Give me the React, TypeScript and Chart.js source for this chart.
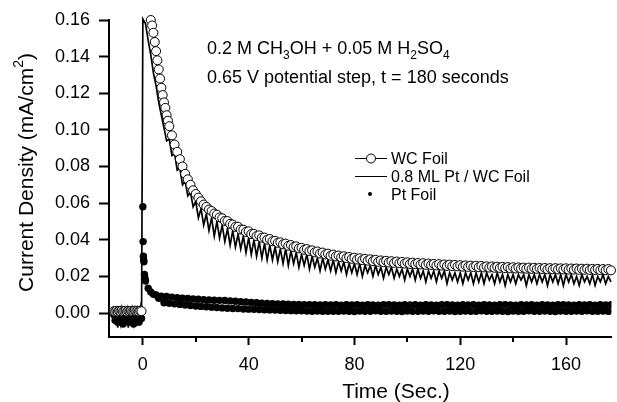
import { useEffect, useRef } from "react";
import { Chart, registerables } from "chart.js";

Chart.register(...registerables);

// ---------- data ----------
const preTime = [-11, -10.5, -10, -9.5, -9, -8.5, -8, -7.5, -7, -6.5, -6, -5.5, -5, -4.5, -4, -3.5, -3, -2.5, -2, -1.5, -1, -0.5];
const wcPre = [0.0010, 0.0008, 0.0012, 0.0007, 0.0011, 0.0009, 0.0013, 0.0008, 0.0010, 0.0012, 0.0007, 0.0011, 0.0009, 0.0012, 0.0008, 0.0010, 0.0013, 0.0009, 0.0011, 0.0008, 0.0012, 0.0010];
const ptwcPre = [0.002, -0.006, 0.001, -0.008, 0.002, -0.005, 0.001, -0.007, 0.002, -0.004, 0.001, -0.008, 0.002, -0.006, 0.001, -0.005, 0.002, -0.007, 0.001, -0.004, 0.002, -0.006];
const ptPre = [-0.001, -0.004, 0.000, -0.005, -0.001, -0.003, 0.000, -0.006, -0.002, -0.004, 0.000, -0.005, -0.001, -0.003, 0.000, -0.006, -0.001, -0.004, 0.000, -0.005, -0.001, -0.003];

// time in seconds, 0 .. 177
const secTime = [
  0, 1, 2, 3, 4, 5, 6, 7, 8, 9, 10, 11, 12, 13, 14, 15, 16, 17, 18, 19,
  20, 21, 22, 23, 24, 25, 26, 27, 28, 29, 30, 31, 32, 33, 34, 35, 36, 37, 38, 39,
  40, 41, 42, 43, 44, 45, 46, 47, 48, 49, 50, 51, 52, 53, 54, 55, 56, 57, 58, 59,
  60, 61, 62, 63, 64, 65, 66, 67, 68, 69, 70, 71, 72, 73, 74, 75, 76, 77, 78, 79,
  80, 81, 82, 83, 84, 85, 86, 87, 88, 89, 90, 91, 92, 93, 94, 95, 96, 97, 98, 99,
  100, 101, 102, 103, 104, 105, 106, 107, 108, 109, 110, 111, 112, 113, 114, 115, 116, 117, 118, 119,
  120, 121, 122, 123, 124, 125, 126, 127, 128, 129, 130, 131, 132, 133, 134, 135, 136, 137, 138, 139,
  140, 141, 142, 143, 144, 145, 146, 147, 148, 149, 150, 151, 152, 153, 154, 155, 156, 157, 158, 159,
  160, 161, 162, 163, 164, 165, 166, 167, 168, 169, 170, 171, 172, 173, 174, 175, 176, 177,
];

// WC foil: 3 .. 9.5 s (half-second), then 10 .. 177 s
const wcEarlyTime = [3, 3.5, 4, 4.5, 5, 5.5, 6, 6.5, 7, 7.5, 8, 8.5, 9, 9.5];
const wcEarly = [0.160, 0.157, 0.153, 0.148, 0.143, 0.138, 0.133, 0.128, 0.123, 0.119, 0.115, 0.112, 0.108, 0.105];
const wcValues = [
  0.102, 0.097, 0.092, 0.088, 0.084, 0.080, 0.076, 0.073, 0.070, 0.067,
  0.065, 0.063, 0.061, 0.0592, 0.058, 0.0565, 0.0557, 0.0543, 0.0537, 0.0522,
  0.0517, 0.0503, 0.0502, 0.0487, 0.0483, 0.0470, 0.0471, 0.0456, 0.0455, 0.0443,
  0.0446, 0.0431, 0.0432, 0.0420, 0.0424, 0.0411, 0.0412, 0.0400, 0.0404, 0.0392,
  0.0394, 0.0383, 0.0386, 0.0375, 0.0379, 0.0367, 0.0371, 0.0360, 0.0364, 0.0353,
  0.0356, 0.0345, 0.0349, 0.0338, 0.0342, 0.0331, 0.0336, 0.0325, 0.0330, 0.0320,
  0.0324, 0.0313, 0.0319, 0.0309, 0.0314, 0.0304, 0.0310, 0.0300, 0.0306, 0.0296,
  0.0302, 0.0292, 0.0299, 0.0289, 0.0296, 0.0286, 0.0293, 0.0283, 0.0290, 0.0280,
  0.0287, 0.0278, 0.0285, 0.0276, 0.0283, 0.0274, 0.0281, 0.0272, 0.0279, 0.0270,
  0.0277, 0.0268, 0.0275, 0.0267, 0.0273, 0.0265, 0.0272, 0.0263, 0.0270, 0.0262,
  0.0268, 0.0260, 0.0267, 0.0259, 0.0265, 0.0257, 0.0264, 0.0256, 0.0263, 0.0255,
  0.0261, 0.0253, 0.0260, 0.0252, 0.0259, 0.0251, 0.0258, 0.0250, 0.0257, 0.0249,
  0.0255, 0.0248, 0.0254, 0.0247, 0.0253, 0.0246, 0.0252, 0.0245, 0.0251, 0.0244,
  0.0250, 0.0243, 0.0249, 0.0243, 0.0248, 0.0242, 0.0248, 0.0241, 0.0247, 0.0241,
  0.0246, 0.0240, 0.0246, 0.0239, 0.0245, 0.0239, 0.0245, 0.0238, 0.0244, 0.0238,
  0.0244, 0.0237, 0.0243, 0.0237, 0.0243, 0.0236, 0.0242, 0.0236, 0.0242, 0.0235,
  0.0241, 0.0235, 0.0241, 0.0234, 0.0240, 0.0234, 0.0240, 0.0233,
];

// 0.8 ML Pt / WC foil, 0 .. 177 s
const ptwcValues = [
  0.1605, 0.158, 0.149, 0.141, 0.131, 0.124, 0.115, 0.108, 0.101, 0.094,
  0.095, 0.086, 0.087, 0.078, 0.079, 0.070, 0.072, 0.064, 0.066, 0.058,
  0.061, 0.052, 0.057, 0.048, 0.054, 0.045, 0.052, 0.042, 0.050, 0.041,
  0.048, 0.039, 0.046, 0.037, 0.045, 0.036, 0.043, 0.035, 0.042, 0.033,
  0.041, 0.032, 0.040, 0.031, 0.039, 0.030, 0.038, 0.029, 0.037, 0.029,
  0.036, 0.028, 0.035, 0.027, 0.035, 0.026, 0.034, 0.027, 0.033, 0.025,
  0.032, 0.026, 0.032, 0.024, 0.031, 0.025, 0.030, 0.023, 0.030, 0.024,
  0.029, 0.023, 0.029, 0.022, 0.028, 0.023, 0.028, 0.021, 0.027, 0.022,
  0.027, 0.021, 0.027, 0.020, 0.026, 0.022, 0.026, 0.020, 0.026, 0.021,
  0.025, 0.019, 0.025, 0.021, 0.025, 0.019, 0.024, 0.020, 0.024, 0.018,
  0.024, 0.020, 0.024, 0.018, 0.024, 0.019, 0.023, 0.017, 0.023, 0.019,
  0.023, 0.017, 0.023, 0.019, 0.023, 0.016, 0.022, 0.018, 0.022, 0.017,
  0.022, 0.016, 0.022, 0.018, 0.022, 0.016, 0.022, 0.017, 0.022, 0.016,
  0.022, 0.018, 0.021, 0.016, 0.022, 0.017, 0.021, 0.015, 0.021, 0.017,
  0.021, 0.016, 0.021, 0.018, 0.021, 0.015, 0.021, 0.017, 0.021, 0.016,
  0.021, 0.017, 0.021, 0.015, 0.021, 0.017, 0.021, 0.016, 0.021, 0.015,
  0.021, 0.017, 0.021, 0.016, 0.020, 0.015, 0.021, 0.017, 0.020, 0.016,
  0.021, 0.015, 0.020, 0.017, 0.021, 0.016, 0.020, 0.017,
];

// Pt foil: spike at 0 .. 0.8 s, then 1 .. 177 s
const ptSpikeTime = [0, 0.1, 0.2, 0.3, 0.4, 0.6, 0.8];
const ptSpikeValues = [0.058, 0.039, 0.031, 0.029, 0.028, 0.021, 0.019];
const ptValues = [
  0.0175, 0.0135, 0.0115, 0.0102, 0.0098, 0.0080, 0.0092, 0.0056, 0.0090, 0.0053,
  0.0087, 0.0050, 0.0084, 0.0047, 0.0081, 0.0044, 0.0079, 0.0041, 0.0077, 0.0038,
  0.0075, 0.0036, 0.0073, 0.0034, 0.0071, 0.0032, 0.0070, 0.0030, 0.0069, 0.0028,
  0.0068, 0.0026, 0.0066, 0.0025, 0.0064, 0.0024, 0.0062, 0.0022, 0.0060, 0.0021,
  0.0058, 0.0020, 0.0056, 0.0019, 0.0054, 0.0018, 0.0052, 0.0017, 0.0051, 0.0016,
  0.0050, 0.0015, 0.0049, 0.0014, 0.0048, 0.0013, 0.0047, 0.0012, 0.0047, 0.0012,
  0.0046, 0.0011, 0.0046, 0.0010, 0.0045, 0.0011, 0.0044, 0.0010, 0.0045, 0.0009,
  0.0044, 0.0010, 0.0046, 0.0009, 0.0043, 0.0011, 0.0045, 0.0010, 0.0044, 0.0008,
  0.0046, 0.0011, 0.0043, 0.0010, 0.0045, 0.0009, 0.0044, 0.0012, 0.0043, 0.0010,
  0.0045, 0.0009, 0.0046, 0.0011, 0.0044, 0.0010, 0.0043, 0.0008, 0.0045, 0.0011,
  0.0044, 0.0010, 0.0046, 0.0009, 0.0043, 0.0011, 0.0045, 0.0010, 0.0044, 0.0012,
  0.0043, 0.0009, 0.0045, 0.0010, 0.0046, 0.0011, 0.0044, 0.0008, 0.0043, 0.0010,
  0.0045, 0.0011, 0.0044, 0.0009, 0.0046, 0.0010, 0.0043, 0.0012, 0.0045, 0.0010,
  0.0044, 0.0009, 0.0043, 0.0011, 0.0045, 0.0010, 0.0046, 0.0008, 0.0044, 0.0011,
  0.0043, 0.0010, 0.0045, 0.0009, 0.0044, 0.0012, 0.0046, 0.0010, 0.0043, 0.0009,
  0.0045, 0.0011, 0.0044, 0.0010, 0.0043, 0.0008, 0.0045, 0.0011, 0.0046, 0.0010,
  0.0044, 0.0009, 0.0043, 0.0011, 0.0045, 0.0010, 0.0044, 0.0012, 0.0046, 0.0009,
  0.0043, 0.0010, 0.0045, 0.0011, 0.0044, 0.0009, 0.0045,
];

const seriesNames = ["WC Foil", "0.8 ML Pt / WC Foil", "Pt Foil"];
const xMajorTicks = [0, 40, 80, 120, 160];
const xMinorTicks = [20, 60, 100, 140];
const yTicks = [0, 0.02, 0.04, 0.06, 0.08, 0.1, 0.12, 0.14, 0.16];
const xTitle = "Time (Sec.)";
const yTitleMain = "Current Density (mA/cm";
const yTitleSup = "2";
const yTitleEnd = ")";
const noteLine1: [string, string][] = [
  ["0.2 M CH", "n"], ["3", "sub"], ["OH + 0.05 M H", "n"], ["2", "sub"], ["SO", "n"], ["4", "sub"],
];
const noteLine2 = "0.65 V potential step, t = 180 seconds";

const FONT = '"Liberation Sans", Arial, Helvetica, sans-serif';

function pts(xs: number[], ys: number[]) {
  return ys.map((y, i) => ({ x: xs[i], y }));
}

const decorations = {
  id: "decorations",
  afterDraw(chart: any) {
    const ctx: CanvasRenderingContext2D = chart.ctx;
    const xs = chart.scales.x;
    const area = chart.chartArea;
    ctx.save();
    ctx.fillStyle = "#000";
    ctx.strokeStyle = "#000";

    // minor x ticks
    ctx.lineWidth = 2;
    for (const v of xMinorTicks) {
      const px = Math.round(xs.getPixelForValue(v));
      ctx.beginPath();
      ctx.moveTo(px, area.bottom);
      ctx.lineTo(px, area.bottom + 5);
      ctx.stroke();
    }

    // annotation text
    let x = 207;
    for (const [txt, kind] of noteLine1) {
      if (kind === "sub") {
        ctx.font = `12px ${FONT}`;
        ctx.fillText(txt, x, 59);
      } else {
        ctx.font = `18px ${FONT}`;
        ctx.fillText(txt, x, 54);
      }
      x += ctx.measureText(txt).width;
    }
    ctx.font = `18px ${FONT}`;
    ctx.fillText(noteLine2, 207, 83);

    // legend
    ctx.font = `16px ${FONT}`;
    ctx.lineWidth = 1;
    ctx.beginPath();
    ctx.moveTo(355, 158.5);
    ctx.lineTo(387, 158.5);
    ctx.stroke();
    ctx.beginPath();
    ctx.arc(371, 158.5, 4.5, 0, Math.PI * 2);
    ctx.fillStyle = "#fff";
    ctx.fill();
    ctx.stroke();
    ctx.fillStyle = "#000";
    ctx.fillText(seriesNames[0], 391, 164);
    ctx.beginPath();
    ctx.moveTo(355, 176.5);
    ctx.lineTo(387, 176.5);
    ctx.stroke();
    ctx.fillText(seriesNames[1], 391, 182);
    ctx.beginPath();
    ctx.arc(370, 194, 2, 0, Math.PI * 2);
    ctx.fill();
    ctx.fillText(seriesNames[2], 391, 200);

    // x title
    ctx.font = `21px ${FONT}`;
    ctx.textAlign = "center";
    ctx.fillText(xTitle, 396, 398);

    // y title (rotated, with superscript)
    ctx.textAlign = "left";
    ctx.font = `21px ${FONT}`;
    const w1 = ctx.measureText(yTitleMain).width;
    const w3 = ctx.measureText(yTitleEnd).width;
    ctx.font = `14px ${FONT}`;
    const w2 = ctx.measureText(yTitleSup).width;
    const total = w1 + w2 + w3;
    ctx.translate(33, 172.5);
    ctx.rotate(-Math.PI / 2);
    let tx = -total / 2;
    ctx.font = `21px ${FONT}`;
    ctx.fillText(yTitleMain, tx, 0);
    tx += w1;
    ctx.font = `14px ${FONT}`;
    ctx.fillText(yTitleSup, tx, -10);
    tx += w2;
    ctx.font = `21px ${FONT}`;
    ctx.fillText(yTitleEnd, tx, 0);
    ctx.restore();
  },
};

export default function App() {
  const ref = useRef<HTMLCanvasElement>(null);
  useEffect(() => {
    document.body.style.margin = "0";
    const wcData = [
      ...pts(preTime, wcPre),
      { x: 1, y: null as any },
      ...pts(wcEarlyTime, wcEarly),
      ...pts(secTime.slice(10), wcValues),
    ];
    const ptwcData = [...pts(preTime, ptwcPre), ...pts(secTime, ptwcValues)];
    const ptData = [...pts(preTime, ptPre), ...pts(ptSpikeTime, ptSpikeValues), ...pts(secTime.slice(1), ptValues)];
    const chart = new Chart(ref.current!, {
      type: "scatter",
      data: {
        datasets: [
          {
            label: seriesNames[0],
            data: wcData,
            showLine: true,
            spanGaps: false,
            borderColor: "#000",
            borderWidth: 1,
            pointRadius: 4.5,
            pointBorderWidth: 1,
            pointBorderColor: "#000",
            pointBackgroundColor: "#fff",
            clip: 8,
          },
          {
            label: seriesNames[1],
            data: ptwcData,
            showLine: true,
            borderColor: "#000",
            borderWidth: 1.7,
            pointRadius: 0,
            clip: 4,
          },
          {
            label: seriesNames[2],
            data: ptData,
            showLine: false,
            pointRadius: 3.7,
            pointBorderWidth: 0,
            pointBackgroundColor: "#000",
            pointBorderColor: "#000",
          },
        ],
      } as any,
      options: {
        responsive: false,
        animation: false,
        layout: { padding: { top: 20, right: 0, left: 0, bottom: 0 } },
        plugins: { legend: { display: false }, tooltip: { enabled: false }, title: { display: false } },
        scales: {
          x: {
            type: "linear",
            position: "bottom",
            min: -12.8,
            max: 177.2,
            border: { display: true, color: "#000", width: 2 },
            grid: { display: true, drawOnChartArea: false, drawTicks: true, tickLength: 8, tickWidth: 2, tickColor: "#000" },
            ticks: { color: "#000", font: { family: FONT, size: 18 }, padding: 9, maxRotation: 0, callback: (v: any) => String(v) },
            afterBuildTicks: (s: any) => { s.ticks = xMajorTicks.map((v) => ({ value: v })); },
            afterFit: (s: any) => { s.height = 65; },
          },
          y: {
            type: "linear",
            position: "left",
            min: -0.0131,
            max: 0.16,
            border: { display: true, color: "#000", width: 2 },
            grid: { display: true, drawOnChartArea: false, drawTicks: true, tickLength: 10, tickWidth: 2, tickColor: "#000" },
            ticks: { color: "#000", font: { family: FONT, size: 18 }, padding: 9, callback: (v: any) => Number(v).toFixed(2) },
            afterBuildTicks: (s: any) => { s.ticks = yTicks.map((v) => ({ value: v })); },
            afterFit: (s: any) => { s.width = 109; },
          },
        },
      },
      plugins: [decorations],
    });
    return () => chart.destroy();
  }, []);
  return (
    <div style={{ width: 617, height: 402 }}>
      <canvas ref={ref} width={617} height={402} style={{ display: "block" }} />
    </div>
  );
}
